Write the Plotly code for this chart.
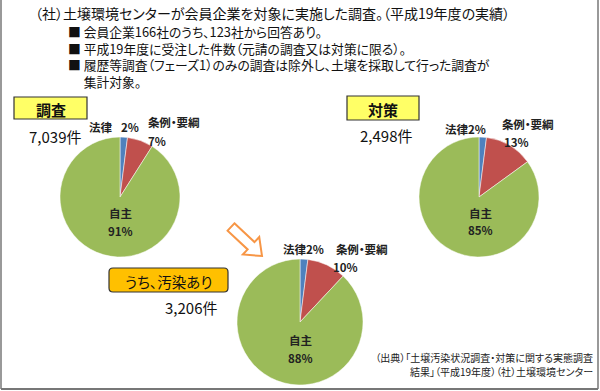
import math
import plotly.graph_objects as go

# ---------------- data ----------------
categories = ["法律", "条例・要綱", "自主"]
survey_values = [2, 7, 91]          # 調査
measures_values = [2, 13, 85]       # 対策
contaminated_values = [2, 10, 88]   # うち、汚染あり
panel_titles = ["調査", "対策", "うち、汚染あり"]
panel_counts = [7039, 2498, 3206]

header_line = "（社）土壌環境センターが会員企業を対象に実施した調査。（平成19年度の実績）"
bullet_lines = [
    "会員企業166社のうち、123社から回答あり。",
    "平成19年度に受注した件数（元請の調査又は対策に限る）。",
    "履歴等調査（フェーズ1）のみの調査は除外し、土壌を採取して行った調査が",
    "集計対象。",
]
source_lines = [
    "（出典）「土壌汚染状況調査・対策に関する実態調査",
    "結果」（平成19年度）（社）土壌環境センター",
]

colors = ["#4F81BD", "#C0504D", "#9BBB59"]

W, H = 600, 391
FONT = "Noto Sans CJK JP"


def px(x):
    return x / W


def py(y):
    return 1 - y / H


fig = go.Figure()

pies = [
    (survey_values, 120, 197, 60),
    (measures_values, 479, 197, 60),
    (contaminated_values, 300, 322, 63),
]
for vals, cx, cy, r in pies:
    fig.add_trace(go.Pie(
        labels=categories, values=vals, sort=False, direction="clockwise",
        rotation=0, textinfo="none", hoverinfo="label+percent",
        marker=dict(colors=colors, line=dict(color="white", width=0.5)),
        domain=dict(x=[px(cx - r), px(cx + r)], y=[py(cy + r), py(cy - r)]),
        showlegend=False,
    ))

ann = []


def text(x, y, s, size=11.5, color="#222", xanchor="center", bold=False, yanchor="middle"):
    if bold:
        s = "<b>" + s + "</b>"
    ann.append(dict(x=px(x), y=py(y), xref="paper", yref="paper", text=s,
                    showarrow=False, xanchor=xanchor, yanchor=yanchor, align=xanchor,
                    font=dict(family=FONT, size=size, color=color)))


# header
text(33, 13, header_line, size=14, xanchor="left", color="#111")
blines = ["■ " + l for l in bullet_lines[:3]] + ["　 " + bullet_lines[3]]
text(66, 57, "<br>".join(blines), size=12.8, xanchor="left", color="#111")

# pie labels
v = survey_values
text(101, 127, categories[0], bold=True)
text(130, 127, f"{v[0]}%", bold=True)
text(174, 122, categories[1], bold=True)
text(157, 141, f"{v[1]}%", bold=True)
text(120, 213, categories[2], bold=True)
text(120, 231, f"{v[2]}%", bold=True)

v = measures_values
text(465, 129, f"{categories[0]}{v[0]}%", bold=True)
text(528, 124, categories[1], bold=True)
text(516, 142, f"{v[1]}%", bold=True)
text(480, 213, categories[2], bold=True)
text(480, 230, f"{v[2]}%", bold=True)

v = contaminated_values
text(303, 249, f"{categories[0]}{v[0]}%", bold=True)
text(362, 249, categories[1], bold=True)
text(345, 267, f"{v[1]}%", bold=True)
text(300, 340, categories[2], bold=True)
text(300, 358, f"{v[2]}%", bold=True)

# counts
count_pos = [(55, 136), (386, 135), (191, 307)]
for (x, y), c in zip(count_pos, panel_counts):
    text(x, y, f"{c:,}件", size=15, color="#111")

# title boxes
shapes = []
box_specs = [
    (14, 97, 87, 119, "#FFFF66", 15, True),
    (347, 96, 419, 120, "#FFFF66", 15, True),
    (109, 268, 228, 292, "#FFC000", 14.5, False),
]
for i, (x0, y0, x1, y1, fc, fs, b) in enumerate(box_specs):
    if i < 2:
        shapes.append(dict(type="rect", xref="paper", yref="paper",
                           x0=px(x0), x1=px(x1), y0=py(y1), y1=py(y0),
                           fillcolor=fc, line=dict(color="#333", width=1.2)))
    else:
        rr = 4
        path = (f"M {px(x0+rr)},{py(y0)} L {px(x1-rr)},{py(y0)} "
                f"Q {px(x1)},{py(y0)} {px(x1)},{py(y0+rr)} "
                f"L {px(x1)},{py(y1-rr)} Q {px(x1)},{py(y1)} {px(x1-rr)},{py(y1)} "
                f"L {px(x0+rr)},{py(y1)} Q {px(x0)},{py(y1)} {px(x0)},{py(y1-rr)} "
                f"L {px(x0)},{py(y0+rr)} Q {px(x0)},{py(y0)} {px(x0+rr)},{py(y0)} Z")
        shapes.append(dict(type="path", xref="paper", yref="paper", path=path,
                           fillcolor=fc, line=dict(color="#333", width=1.2)))
    text((x0 + x1) / 2, (y0 + y1) / 2 + 1, panel_titles[i], size=fs, color="#111", bold=b)

# outline arrow pointing down-right
tail = (231, 227)
tip = (262, 256)
dx, dy = tip[0] - tail[0], tip[1] - tail[1]
L = math.hypot(dx, dy)
ux, uy = dx / L, dy / L
nx, ny = -uy, ux
sw, hw, hl = 5, 12, 15
pts_local = [(0, -sw), (L - hl, -sw), (L - hl, -hw), (L, 0), (L - hl, hw), (L - hl, sw), (0, sw)]
pts = [(tail[0] + a * ux + b * nx, tail[1] + a * uy + b * ny) for a, b in pts_local]
path = "M " + " L ".join(f"{px(x)},{py(y)}" for x, y in pts) + " Z"
shapes.append(dict(type="path", xref="paper", yref="paper", path=path,
                   fillcolor="white", line=dict(color="#F79646", width=2)))

# source
text(595, 357, source_lines[0], size=10, xanchor="right", color="#222")
text(595, 371, source_lines[1], size=10, xanchor="right", color="#222")

# frame (left, right, bottom)
for x0, y0, x1, y1, wdt in [(1, 0, 1, 389, 1.5), (598, 0, 598, 389, 1.5), (1, 389, 598, 389, 2)]:
    shapes.append(dict(type="line", xref="paper", yref="paper",
                       x0=px(x0), y0=py(y0), x1=px(x1), y1=py(y1),
                       line=dict(color="#777", width=wdt)))

fig.update_layout(
    width=W, height=H, margin=dict(l=0, r=0, t=0, b=0),
    paper_bgcolor="white", plot_bgcolor="white",
    annotations=ann, shapes=shapes, showlegend=False,
    font=dict(family=FONT),
)
post = (
    "document.body.style.margin='0';document.body.style.overflow='hidden';"
    "var s=document.createElement('style');"
    "s.textContent='text{font-feature-settings:\"palt\" 1;}';"
    "document.head.appendChild(s);"
)
fig.write_html("out.html", config={"displayModeBar": False}, post_script=post)
